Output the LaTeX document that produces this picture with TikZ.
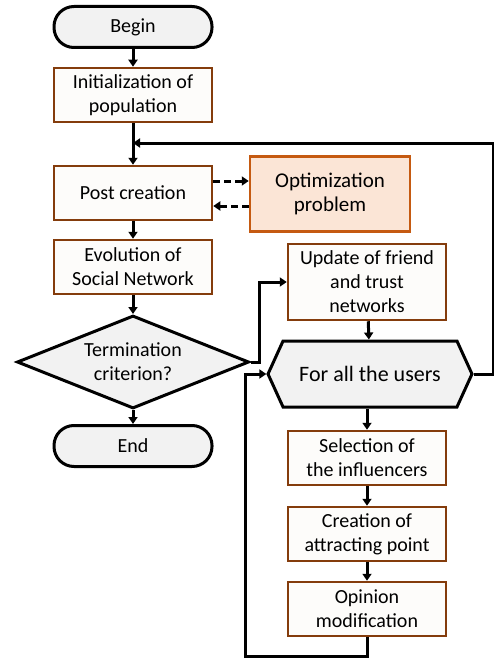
\documentclass[tikz,border=0pt]{standalone}
\usepackage{fontspec}
\setmainfont{Carlito}
\usetikzlibrary{arrows.meta,shapes.geometric,shapes.symbols}
\definecolor{boxline}{RGB}{132,60,12}
\definecolor{boxfill}{RGB}{253,252,250}
\definecolor{optline}{RGB}{197,90,17}
\definecolor{optfill}{RGB}{251,229,214}
\definecolor{greyfill}{RGB}{242,242,242}
\tikzset{
 box/.style={draw=boxline,fill=boxfill,line width=2.5pt,minimum width=158pt,minimum height=54pt,inner sep=0pt,align=center},
 optbox/.style={draw=optline,fill=optfill,line width=2.5pt,minimum width=160pt,minimum height=75pt,inner sep=0pt,align=center,font=\fontsize{21}{24}\selectfont},
 term/.style={draw,fill=greyfill,line width=3pt,rounded corners=20pt,minimum width=158pt,minimum height=41pt,inner sep=0pt},
 decision/.style={draw,diamond,aspect=2.5,fill=greyfill,line width=3pt,minimum width=232pt,minimum height=93pt,inner sep=0pt,align=center},
 loopbox/.style={draw,signal,signal to=east and west,signal pointer angle=131,fill=greyfill,line width=3pt,minimum width=204pt,minimum height=66pt,inner sep=0pt,font=\fontsize{22}{26}\selectfont},
 line/.style={line width=3pt,-{Triangle[length=7pt,width=9pt]}},
 dline/.style={line width=3pt,dash pattern=on 7pt off 4pt,-{Triangle[length=7pt,width=9pt]}}
}
\begin{document}
\begin{tikzpicture}[x=1pt,y=-1pt,font=\fontsize{20}{24}\selectfont]
\useasboundingbox (0,0) rectangle (493,661);
% left column
\node [term] (begin) at (133,27) {Begin};
\node [box] (init) at (133,95) {Initialization of\\population};
\node [box] (post) at (133,193) {Post creation};
\node [box] (evol) at (133,267) {Evolution of\\Social Network};
\node [decision] (term) at (133,362) {Termination\\criterion?};
\node [term] (end) at (133,446) {End};
\node [optbox] (opt) at (330,194) {Optimization\\problem};
% right column
\node [box,minimum height=76pt] (upd) at (367,282) {Update of friend\\and trust\\networks};
\node [loopbox] (users) at (370,374) {For all the users};
\foreach \name/\ypos/\txt in {sel/458/{Selection of\\the influencers},cre/534/{Creation of\\attracting point},opi/609/{Opinion\\modification}}{
 \node [box] (\name) at (367,\ypos) {\txt};
}
\coordinate (merge) at (133,143); % where the loop comes back
\draw [line] (begin) -- (init);
\draw [line] (init) -- (post);
\draw [line] (post) -- (evol);
\draw [line] (evol) -- (term);
\draw [line] (term) -- (end);
\draw [dline] ([yshift=12pt]post.east) -- ([yshift=12pt]post.east -| opt.west);
\draw [dline] ([yshift=-13pt]post.east -| opt.west) -- ([yshift=-13pt]post.east);
\draw [line] (term.east) -- ++(9,0) |- (upd.west);
\draw [line] (upd) -- (users);
\draw [line] (users.south -| sel.north) -- (sel);
\draw [line] (sel) -- (cre);
\draw [line] (cre) -- (opi);
\draw [line] (opi.south) -- ++(0,19) -| ([xshift=-21pt]users.west) -- (users.west); % next user
\draw [line] (users.east) -- ++(20,0) |- (merge); % next iteration
\end{tikzpicture}
\end{document}
